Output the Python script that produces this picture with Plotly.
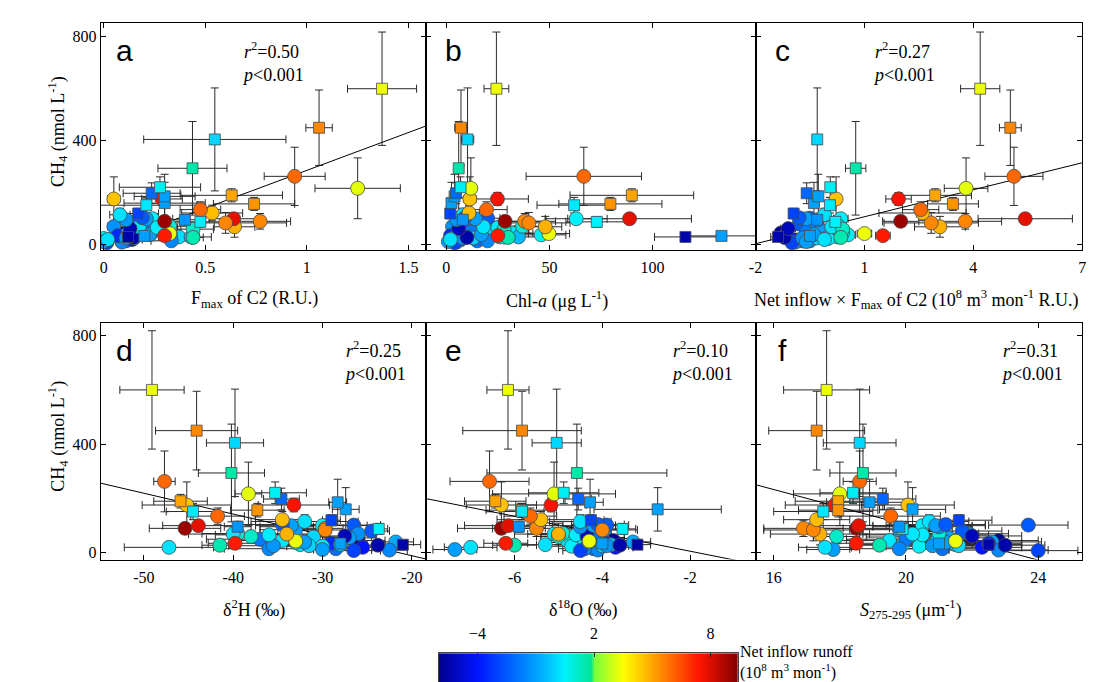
import plotly.graph_objects as go
import numpy as np

# ---------------- data (one entry per sample) ----------------
shape = ['s'] * 16 + ['o'] * 50
runoff = [3.3, 5.5, 0.0, 1.6, 0.6, -2.2, -1.0, 0.3, -1.0, 5.3, 5.0, -3.0, -1.2, 0.5, -5.5, -1.0,
          6.0, 3.2, 7.5, 4.5, 6.0, 4.6, 5.5, 7.8, 9.0, 4.8, 5.5, 7.3, 3.3, 1.5, 1.2, 0.2, -1.0,
          -2.5, -1.0, 0.2, -1.2, -5.2, 0.3, 0.4, 1.0, -1.0, -5.5, -1.2, 0.0, -3.0, 0.5, -1.5, -0.5,
          -1.8, 0.3, -2.5, -3.5, -1.0, 0.5, -1.5, -4.0, 0.6, -1.3, -2.5, -0.8, 0.2, -2.0, 0.0, -5.8, -1.0]
ch4 = [600, 450, 405, 294, 221, 198, 186, 152, 160, 157, 190, 120, 96, 88, 30, 34,
       263, 217, 176, 176, 135, 122, 84, 100, 90, 69, 90, 35, 43, 28, 60, 20, 12,
       104, 100, 115, 96, 62, 69, 66, 71, 39, 28, 26, 26, 8, 24, 15, 30,
       50, 45, 80, 35, 55, 100, 10, 20, 38, 70, 102, 40, 30, 15, 58, 45, 85]
ch4_err = [218, 145, 198, 180, 40, 40, 85, 30, 80, 25, 25, 20, 20, 20, 15, 15,
           112, 117, 25, 85, 30, 30, 40, 20, 20, 40, 30, 15, 15, 15, 20, 10, 10,
           20, 20, 25, 15, 15, 15, 15, 15, 10, 10, 10, 10, 8, 8, 8, 10,
           15, 12, 15, 10, 15, 20, 8, 8, 10, 15, 20, 10, 10, 8, 12, 10, 15]
fmax = [1.37, 1.06, 0.547, 0.437, 0.277, 0.236, 0.30, 0.21, 0.30, 0.74, 0.63, 0.17, 0.40, 0.476, 0.12, 0.2,
        0.94, 1.25, 0.287, 0.05, 0.476, 0.534, 0.60, 0.64, 0.30, 0.644, 0.77, 0.30, 0.325, 0.44, 0.44, 0.02, 0.0,
        0.19, 0.21, 0.08, 0.11, 0.13, 0.175, 0.264, 0.325, 0.227, 0.147, 0.11, 0.15, 0.016, 0.0, 0.333, 0.43,
        0.20, 0.12, 0.16, 0.07, 0.28, 0.24, 0.09, 0.14, 0.33, 0.05, 0.19, 0.23, 0.37, 0.11, 0.25, 0.10, 0.22]
fmax_err = [0.17, 0.065, 0.35, 0.17, 0.2, 0.14, 0.15, 0.25, 0.2, 0.2, 0.25, 0.1, 0.1, 0.1, 0.05, 0.1,
            0.15, 0.21, 0.1, 0.03, 0.1, 0.15, 0.3, 0.12, 0.1, 0.1, 0.15, 0.05, 0.05, 0.05, 0.1, 0.01, 0.01,
            0.08, 0.1, 0.05, 0.06, 0.05, 0.08, 0.1, 0.12, 0.08, 0.06, 0.05, 0.05, 0.02, 0.01, 0.1, 0.1,
            0.07, 0.06, 0.06, 0.04, 0.1, 0.1, 0.05, 0.05, 0.1, 0.03, 0.07, 0.08, 0.1, 0.05, 0.08, 0.04, 0.08]
chla = [24.3, 7.1, 10.3, 6.0, 6.9, 4.7, 4.0, 62, 2.5, 79.6, 90, 1.9, 8, 73, 116, 133.5,
        66.7, 11.9, 24.8, 11.4, 19.5, 11, 40, 88.9, 28.5, 48, 38, 25, 49.8, 30, 28, 2, 1,
        9, 14, 8, 5, 6, 18, 25, 37, 17, 10, 8, 13, 4, 3, 20, 35,
        12, 32, 7, 2, 10, 63, 5, 7, 46, 3, 20, 28, 26, 15, 22, 11, 12]
chla_err = [6, 3, 3, 1, 1.5, 1, 1, 18, 1, 25, 30, 1, 2, 15, 15, 18,
            28, 2, 15, 3, 10, 5, 20, 30, 20, 8, 15, 5, 10, 5, 5, 1, 1,
            4, 6, 3, 2, 3, 8, 10, 12, 6, 4, 3, 5, 2, 2, 8, 10,
            5, 10, 3, 1, 4, 15, 2, 3, 12, 2, 6, 8, 8, 5, 8, 4, 5]
nif = [4.19, 5.02, -0.3, 0.76, 0.06, -0.59, -0.27, 0.05, -0.39, 3.44, 2.95, -0.95, -0.3, 0.2, -1.38, -0.5,
       5.12, 3.8, 1.94, 0.22, 2.55, 2.6, 2.84, 5.43, 2.0, 3.08, 3.78, 1.51, 1.0, 0.35, 0.4, -0.1, -0.6,
       -0.8, -0.6, -0.1, -0.3, -1.1, 0.1, 0.2, 0.3, -0.4, -1.2, -0.7, -0.3, -1.0, 0.0, -0.5, 0.0,
       -0.6, 0.4, -0.8, -1.2, -0.2, 0.35, -0.9, -1.0, 0.55, -0.5, -0.5, -0.2, 0.25, -0.7, 0.1, -1.3, -0.3]
nif_err = [0.54, 0.3, 0.1, 0.28, 0.1, 0.1, 0.1, 0.1, 0.1, 0.7, 1.0, 0.05, 0.1, 0.1, 0.2, 0.1,
           0.8, 0.6, 0.35, 0.1, 0.5, 1.2, 1.3, 1.3, 0.5, 0.7, 1.0, 0.2, 0.2, 0.2, 0.15, 0.1, 0.1,
           0.15, 0.2, 0.1, 0.1, 0.2, 0.15, 0.2, 0.2, 0.1, 0.2, 0.15, 0.1, 0.1, 0.1, 0.15, 0.2,
           0.15, 0.15, 0.15, 0.1, 0.15, 0.2, 0.1, 0.15, 0.2, 0.1, 0.15, 0.15, 0.15, 0.1, 0.15, 0.15, 0.15]
d2h = [-49.1, -44.1, -39.8, -40.2, -35.3, -34.6, -28.3, -44.5, -27.4, -37.3, -45.9, -29, -39.5, -23.7, -21, -28,
       -47.7, -38.3, -33.2, -45.2, -41.75, -34.5, -29.7, -43.9, -45.4, -34, -29.7, -39.8, -33, -41.5, -38, -47.2, -30,
       -34.5, -33.5, -32, -34, -27.5, -40, -36, -39.5, -32, -23.8, -35.5, -31.5, -26.5, -30, -36, -28,
       -37, -34.5, -24.5, -29, -27, -30, -22.5, -25.5, -33, -26, -26.5, -21.8, -32.5, -28.5, -31, -26, -33]
d2h_err = [3.6, 4.6, 3.2, 3.7, 3.5, 2.0, 1.0, 3, 1.5, 3, 3, 1, 1.5, 1, 2, 1,
           1.2, 1.5, 4, 5, 3, 3, 3, 4, 4, 3, 2, 3, 2, 2, 2, 5, 1,
           5, 4, 6, 3, 3, 5, 6, 4, 4, 3, 5, 4, 3, 4, 5, 3,
           6, 5, 2, 3, 3, 5, 2, 3, 4, 2, 3, 2, 4, 3, 4, 3, 4]
d18o = [-6.15, -5.83, -5.04, -4.58, -4.88, -4.55, -4.28, -5.83, -2.74, -5.85, -6.44, -4.26, -5.9, -3.54, -3.2, -4,
        -6.57, -5.1, -5.17, -6.3, -5.64, -5.4, -4.0, -6.14, -6.3, -5.0, -5.5, -6.2, -4.3, -6.0, -5.0, -7.0, -7.36,
        -4.1, -4.2, -4.5, -4.5, -4.35, -5.1, -4.6, -4.9, -4.3, -3.6, -3.9, -4.0, -4.5, -4.7, -4.4, -3.8,
        -4.1, -4.8, -4.2, -3.9, -4.0, -4.3, -4.1, -3.7, -4.6, -4.4, -3.9, -3.3, -5.3, -4.2, -4.5, -3.75, -3.95]
d18o_err = [0.48, 1.35, 0.56, 2.05, 0.8, 0.3, 0.3, 0.5, 1.45, 0.8, 0.7, 0.3, 0.5, 0.3, 0.3, 0.3,
            0.9, 1.4, 0.8, 0.8, 0.6, 1, 0.8, 1, 1, 1, 1, 0.5, 0.5, 0.5, 0.5, 0.6, 0.5,
            0.6, 0.5, 0.7, 0.4, 0.5, 0.6, 0.8, 0.5, 0.5, 0.4, 0.5, 0.5, 0.4, 0.5, 0.6, 0.4,
            0.6, 0.6, 0.4, 0.4, 0.5, 0.6, 0.4, 0.4, 0.6, 0.4, 0.5, 0.4, 0.6, 0.5, 0.6, 0.4, 0.5]
s275 = [17.6, 17.3, 18.6, 18.7, 18.4, 19.3, 18.9, 17.5, 20.2, 17.95, 17.95, 21.6, 19.8, 19.9, 22.5, 21,
        18.6, 18.0, 17.85, 20.06, 19.54, 17.3, 17.2, 18.57, 18.5, 17.4, 16.9, 18.5, 21.5, 19.2, 17.9, 17.55, 17.8,
        21.2, 20.9, 20.7, 21.0, 22.0, 20.2, 20.5, 21.0, 21.2, 23.0, 20.8, 21.6, 24.0, 20.4, 19.8, 21.5,
        20.0, 19.5, 21.7, 22.5, 21.3, 20.5, 22.8, 22.3, 20.9, 21.9, 23.7, 22.6, 19.9, 21.1, 20.3, 22.8, 19.8]
s275_err = [1.3, 1.45, 1.1, 1.0, 1.0, 1.0, 1.3, 1.5, 1.0, 1.2, 1.3, 1.0, 0.8, 1.5, 1, 1,
            0.5, 1.4, 1.5, 1.4, 1.5, 1.0, 1.5, 1.5, 1, 1.5, 1.2, 1, 1, 0.8, 0.7, 0.8, 0.8,
            1.2, 1.5, 1.2, 1.0, 1.5, 1.5, 2, 1.2, 1.5, 1.2, 1.5, 1.0, 1.2, 1.0, 1.5, 1.2,
            1.8, 1.5, 1.2, 1.0, 1.5, 1.5, 1.5, 1.2, 1.5, 1.2, 1.2, 1.5, 1.5, 1.2, 1.5, 1.2, 1.5]

panel_letters = ['a', 'b', 'c', 'd', 'e', 'f']
fit_r2 = ['0.50', None, '0.27', '0.25', '0.10', '0.31']
fit_slope = [291, None, 34.6, -7.67, -32.2, -32.5]
fit_intercept = [-5, None, 73, -164.2, -58.6, 753]
x_ticks = [[0, 0.5, 1, 1.5], [0, 50, 100], [-2, 1, 4, 7], [-50, -40, -30, -20], [-6, -4, -2], [16, 20, 24]]
x_ticktext = [['0', '0.5', '1', '1.5'], ['0', '50', '100'], ['-2', '1', '4', '7'],
              ['-50', '-40', '-30', '-20'], ['-6', '-4', '-2'], ['16', '20', '24']]
y_ticks = [0, 400, 800]
cbar_ticks = [-4, 2, 8]
cbar_min, cbar_max = -6, 9.4

x_titles = ['F<sub>max</sub> of C2 (R.U.)',
            'Chl-<i>a</i> (μg L<sup>-1</sup>)',
            'Net inflow × F<sub>max</sub> of C2 (10<sup>8</sup> m<sup>3</sup> mon<sup>-1</sup> R.U.)',
            'δ<sup>2</sup>H (‰)',
            'δ<sup>18</sup>O (‰)',
            '<i>S</i><sub>275-295</sub> (μm<sup>-1</sup>)']
y_title = 'CH<sub>4</sub> (nmol L<sup>-1</sup>)'

xs = [fmax, chla, nif, d2h, d18o, s275]
xes = [fmax_err, chla_err, nif_err, d2h_err, d18o_err, s275_err]

# ---------------- layout geometry ----------------
W, H = 1099, 682
col_px = [(86.5, 415.5), (415.5, 748), (748, 1078)]
row_px = [(15, 243), (316, 554)]
x_title_cx = [242, 547, 910, 241, 574, 905]
x_ranges = [[-0.015, 1.588], [-9.7, 150], [-2.0, 7.0], [-54.85, -18.37], [-8.01, -0.51], [15.45, 25.33]]
y_ranges = [[-20, 853], [-25, 848]]

SERIF = 'Liberation Serif'
SANS = 'Liberation Sans'

colorscale = [[0.0, 'rgb(0,0,140)'], [0.13, 'rgb(0,20,255)'], [0.325, 'rgb(0,160,255)'],
              [0.42, 'rgb(0,240,255)'], [0.51, 'rgb(0,230,150)'], [0.52, 'rgb(120,255,60)'],
              [0.617, 'rgb(255,255,0)'], [0.714, 'rgb(255,165,0)'], [0.87, 'rgb(255,20,0)'],
              [1.0, 'rgb(128,0,0)']]

fig = go.Figure()
layout = dict(width=W, height=H, margin=dict(l=0, r=0, t=0, b=0),
              paper_bgcolor='white', plot_bgcolor='white', showlegend=False,
              font=dict(family=SERIF, size=16, color='black'))
annotations = []

symbols = ['square' if s == 's' else 'circle' for s in shape]
sizes = [11 if s == 's' else 14 for s in shape]

for i in range(6):
    r, c = divmod(i, 3)
    xa = 'x' if i == 0 else f'x{i+1}'
    ya = 'y' if i == 0 else f'y{i+1}'
    xkey = 'xaxis' if i == 0 else f'xaxis{i+1}'
    ykey = 'yaxis' if i == 0 else f'yaxis{i+1}'
    x0, x1 = col_px[c]
    y0, y1 = row_px[r]
    common = dict(showline=True, linecolor='black', linewidth=1, mirror='ticks', ticks='inside',
                  ticklen=5, tickcolor='black', showgrid=False, zeroline=False,
                  tickfont=dict(family=SERIF, size=16, color='black'))
    layout[xkey] = dict(domain=[x0 / W, x1 / W], range=x_ranges[i], anchor=ya,
                        tickvals=x_ticks[i], ticktext=x_ticktext[i], ticklabelstandoff=3, **common)
    layout[ykey] = dict(domain=[1 - y1 / H, 1 - y0 / H], range=y_ranges[r], anchor=xa,
                        tickvals=y_ticks, showticklabels=(c == 0), **common)

    # error bars (under all markers)
    fig.add_trace(go.Scatter(
        x=xs[i], y=ch4, xaxis=xa, yaxis=ya, mode='markers',
        marker=dict(size=2, color='rgba(0,0,0,0)'),
        error_x=dict(type='data', array=xes[i], color='#2a2a2a', thickness=1, width=4),
        error_y=dict(type='data', array=ch4_err, color='#2a2a2a', thickness=1, width=4),
        hoverinfo='skip'))
    # regression line
    if fit_slope[i] is not None:
        lx = list(x_ranges[i])
        ly = [fit_slope[i] * v + fit_intercept[i] for v in lx]
        fig.add_trace(go.Scatter(x=lx, y=ly, xaxis=xa, yaxis=ya, mode='lines',
                                 line=dict(color='black', width=1), hoverinfo='skip'))
    # markers: circles first, then squares
    order = [k for k in range(len(ch4)) if shape[k] == 'o'][::-1] + [k for k in range(len(ch4)) if shape[k] == 's'][::-1]
    fig.add_trace(go.Scatter(
        x=[xs[i][k] for k in order], y=[ch4[k] for k in order], xaxis=xa, yaxis=ya, mode='markers',
        marker=dict(symbol=[symbols[k] for k in order], size=[sizes[k] for k in order],
                    color=[runoff[k] for k in order], colorscale=colorscale, opacity=1,
                    cmin=cbar_min, cmax=cbar_max, showscale=False,
                    line=dict(color='#4a4a4a', width=0.8))))

    # panel letter
    annotations.append(dict(x=(x0 + 24) / W if c == 0 else (x0 + 27) / W, y=1 - (y0 + 28) / H,
                            xref='paper', yref='paper', text=panel_letters[i],
                            showarrow=False, xanchor='center', yanchor='middle',
                            font=dict(family=SANS, size=30, color='black')))
    # statistics
    if fit_r2[i] is not None:
        sx = [227, None, 865][c] if r == 0 else [330, 661, 994][c]
        annotations.append(dict(x=sx / W, y=1 - (y0 + 39) / H, xref='paper', yref='paper',
                                text=f'<i>r</i><sup>2</sup>={fit_r2[i]}<br><i>p</i>&lt;0.001',
                                showarrow=False, xanchor='left', yanchor='middle', align='left',
                                font=dict(family=SERIF, size=18, color='black')))
    # x title
    annotations.append(dict(x=x_title_cx[i] / W, y=1 - ([293, 604][r]) / H, xref='paper', yref='paper',
                            text=x_titles[i], showarrow=False, xanchor='center', yanchor='middle',
                            font=dict(family=SERIF, size=18, color='black')))

# y titles
for r in range(2):
    y0, y1 = row_px[r]
    annotations.append(dict(x=43 / W, y=1 - ((y0 + y1) / 2 - 5) / H, xref='paper', yref='paper',
                            text=y_title, textangle=-90, showarrow=False,
                            xanchor='center', yanchor='middle',
                            font=dict(family=SERIF, size=18, color='black')))

# colour bar drawn as heatmap on its own axes
cb_x = np.linspace(cbar_min, cbar_max, 400)
fig.add_trace(go.Heatmap(x=cb_x, y=[0], z=[cb_x], colorscale=colorscale, zmin=cbar_min, zmax=cbar_max,
                         showscale=False, xaxis='x7', yaxis='y7', hoverinfo='skip'))
layout['xaxis7'] = dict(domain=[428 / W, 730 / W], range=[cbar_min, cbar_max], anchor='y7', side='top',
                        tickvals=cbar_ticks, ticks='inside', ticklen=4, tickcolor='#222',
                        showline=True, linecolor='#444', linewidth=1, mirror=True,
                        showgrid=False, zeroline=False, ticklabelstandoff=7,
                        tickfont=dict(family=SERIF, size=16, color='black'))
layout['yaxis7'] = dict(domain=[1 - 680 / H, 1 - 648 / H], range=[-0.5, 0.5], anchor='x7',
                        showticklabels=False, ticks='', showline=True, linecolor='#444',
                        linewidth=1, mirror=True, showgrid=False, zeroline=False)
annotations.append(dict(x=730 / W, y=1 - 657 / H, xref='paper', yref='paper',
                        text='Net inflow runoff<br>(10<sup>8</sup> m<sup>3</sup> mon<sup>-1</sup>)',
                        showarrow=False, xanchor='left', yanchor='middle', align='left',
                        font=dict(family=SERIF, size=16, color='black')))

layout['annotations'] = annotations
fig.update_layout(**layout)
fig.write_html('out.html')
